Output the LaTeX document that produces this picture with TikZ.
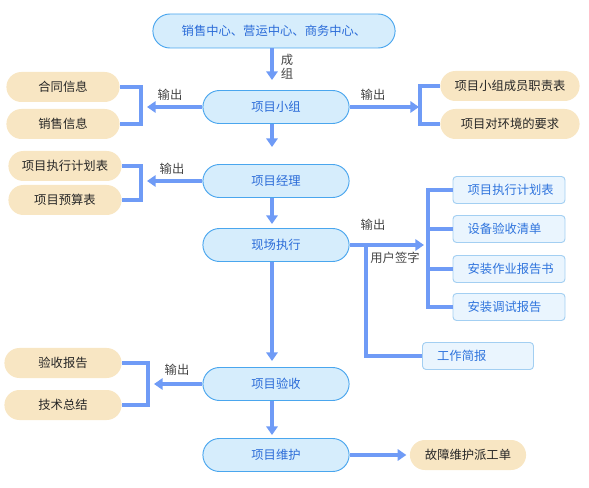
\documentclass[tikz,border=0pt]{standalone}
\usepackage{fontspec}
\usepackage{tikz}
\usetikzlibrary{positioning,arrows.meta,shapes.misc}
\newfontfamily\cjk{Noto Sans CJK SC}
\definecolor{flowfill}{HTML}{D6EDFC}
\definecolor{flowline}{HTML}{4AA6EE}
\definecolor{flowtext}{HTML}{2A6BD8}
\definecolor{outfill}{HTML}{F8E6C3}
\definecolor{outtext}{HTML}{262626}
\definecolor{docfill}{HTML}{EAF5FE}
\definecolor{docline}{HTML}{A3CFF2}
\definecolor{doctext}{HTML}{2F74DD}
\definecolor{linkblue}{HTML}{6F9BF6}
\definecolor{lbltext}{HTML}{444444}

\begin{document}
\begin{tikzpicture}[
    x=0.03cm, y=-0.03cm,
    font=\cjk\fontsize{10.5}{12}\selectfont,
    stage/.style={rounded rectangle, draw=flowline, fill=flowfill, text=flowtext, thick, minimum width=4.62cm, minimum height=0.99cm},
    output/.style={rounded rectangle, fill=outfill, text=outtext, minimum width=3.63cm, minimum height=0.9cm},
    docbox/.style={draw=docline, fill=docfill, text=doctext, thick, rounded corners=3pt, minimum height=0.81cm, inner xsep=0.44cm},
    lbl/.style={text=lbltext},
    arrow/.style={-{Triangle[length=2.6mm, width=3.4mm]}, line width=3pt, draw=linkblue},
    link/.style={line width=3pt, draw=linkblue}
]
\useasboundingbox (0,0) rectangle (589,488);

% main flow
\node[stage, minimum width=7.5cm, minimum height=1.02cm] (centers) at (274,31) {销售中心、营运中心、商务中心、};
\node[stage] (team) at (276,107) {项目小组};
\node[stage] (manager) at (276,181) {项目经理};
\node[stage] (onsite) at (276,245) {现场执行};
\node[stage] (accept) at (276,384) {项目验收};
\node[stage] (maint) at (276,455) {项目维护};
\coordinate (spine) at (272,0);

\draw[arrow, shorten >=0.3cm] (centers.south -| spine) -- (team.north -| spine);
\draw[arrow, shorten >=0.51cm] (team.south -| spine) -- (manager.north -| spine);
\draw[arrow, shorten >=0.12cm] (manager.south -| spine) -- (onsite.north -| spine);
\draw[arrow, shorten >=0.18cm] (onsite.south -| spine) -- (accept.north -| spine);
\draw[arrow, shorten >=0.09cm] (accept.south -| spine) -- (maint.north -| spine);
\node[lbl, align=center, inner sep=0pt] (grouped) at (287,67) {成\\组};

% left outputs
\node[output] (contract) at (63,87) {合同信息};
\node[output] (sales) at (63,124) {销售信息};
\node[output] (planL) at (65,166) {项目执行计划表};
\node[output] (budget) at (65,200) {项目预算表};
\node[output, minimum width=3.75cm] (report) at (63,363) {验收报告};
\node[output, minimum width=3.75cm] (summary) at (63,405) {技术总结};

\draw[link] (contract.east) -- ++(21,0) |- (sales.east);
\draw[link] (planL.east) -- ++(19,0) |- (budget.east);
\draw[link] (report.east) -- ++(26,0) |- (summary.east);
\coordinate (teamL) at (147,107);
\coordinate (managerL) at (147,181);
\coordinate (acceptL) at (154,384);
\draw[arrow] (team.west) -- (teamL);
\draw[arrow] (manager.west) -- (managerL);
\draw[arrow] (accept.west) -- (acceptL);
\node[lbl] (outA) at (170,95) {输出};
\node[lbl] (outB) at (172,169) {输出};
\node[lbl] (outC) at (177,370) {输出};

% right outputs
\node[output, minimum width=4.41cm] (duty) at (510,86) {项目小组成员职责表};
\node[output, minimum width=4.41cm] (env) at (510,124) {项目对环境的要求};
\draw[link] (duty.west) -- ++(-20,0) |- (env.west);
\coordinate (teamR) at (419,107);
\draw[arrow] (team.east) -- (teamR);
\node[lbl] (outD) at (373,95) {输出};

\node[docbox] (planR) at (509,190) {\makebox[2.48cm][l]{项目执行计划表}};
\node[docbox] (equip) at (509,229) {\makebox[2.48cm][l]{设备验收清单}};
\node[docbox] (install) at (509,269) {\makebox[2.48cm][l]{安装作业报告书}};
\node[docbox] (debug) at (509,307) {\makebox[2.48cm][l]{安装调试报告}};
\node[docbox] (brief) at (478,356) {\makebox[2.45cm][l]{工作简报}};
\coordinate (trunk) at (428,0);
\coordinate (onsiteR) at (424,245);
\coordinate (sign) at (366,245);
\draw[arrow] (onsite.east) -- (onsiteR);
\draw[link] (planR.west) -| (trunk |- debug.west) -- (debug.west);
\draw[link] (equip.west) -- (trunk |- equip.west);
\draw[link] (install.west) -- (trunk |- install.west);
\draw[link] (sign) |- (brief.west);
\node[lbl] (outE) at (373,225) {输出};
\node[lbl] (signed) at (395,258) {用户签字};

\node[output, minimum width=3.72cm] (ticket) at (468,455) {故障维护派工单};
\draw[arrow, shorten >=0.1cm] (maint.east) -- (ticket.west);
\end{tikzpicture}
\end{document}
